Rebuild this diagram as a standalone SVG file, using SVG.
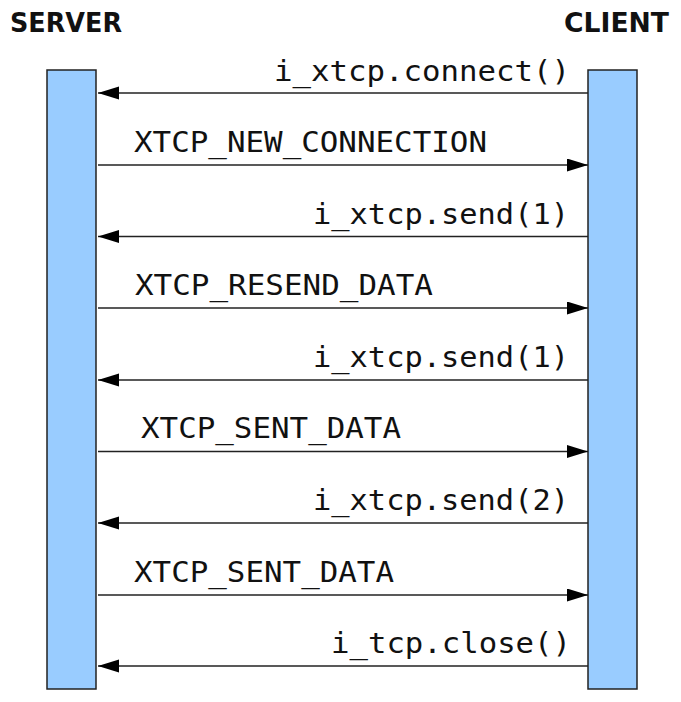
<svg xmlns="http://www.w3.org/2000/svg" width="681" height="702" viewBox="0 0 681 702">
<style>
.bar{fill:#99ccff;stroke:#222;stroke-width:1.5}
.hdr{font-family:"DejaVu Sans","Liberation Sans",sans-serif;font-weight:bold;font-size:26px;fill:#111}
.lbl{font-family:"DejaVu Sans Mono","Liberation Mono",monospace;font-size:29px;fill:#111}
.msg{stroke:#222;stroke-width:1.3;fill:none;marker-end:url(#ah)}
</style>
<defs>
<marker id="ah" markerUnits="userSpaceOnUse" markerWidth="22" markerHeight="14" refX="21" refY="6.5" orient="auto">
<path d="M0,0 L21,6.5 L0,13 z" fill="#000"/>
</marker>
</defs>
<rect width="681" height="702" fill="#fff"/>
<g id="server">
<text class="hdr" x="10" y="32" textLength="112" lengthAdjust="spacingAndGlyphs">SERVER</text>
<rect class="bar" x="47" y="70" width="49" height="619"/>
</g>
<g id="client">
<text class="hdr" x="564" y="32" textLength="105" lengthAdjust="spacingAndGlyphs">CLIENT</text>
<rect class="bar" x="588" y="70" width="49" height="619"/>
</g>
<g id="connectors">
<line class="msg" x1="588" y1="93" x2="98" y2="93"/>
<line class="msg" x1="98" y1="165" x2="588" y2="165"/>
<line class="msg" x1="588" y1="236.5" x2="98" y2="236.5"/>
<line class="msg" x1="98" y1="308" x2="588" y2="308"/>
<line class="msg" x1="588" y1="380" x2="98" y2="380"/>
<line class="msg" x1="98" y1="451.5" x2="588" y2="451.5"/>
<line class="msg" x1="588" y1="523" x2="98" y2="523"/>
<line class="msg" x1="98" y1="595" x2="588" y2="595"/>
<line class="msg" x1="588" y1="666" x2="98" y2="666"/>
</g>
<g id="labels">
<text class="lbl" x="570" y="81" text-anchor="end" textLength="296" lengthAdjust="spacingAndGlyphs">i_xtcp.connect()</text>
<text class="lbl" x="134" y="152" textLength="353" lengthAdjust="spacingAndGlyphs">XTCP_NEW_CONNECTION</text>
<text class="lbl" x="569" y="224" text-anchor="end" textLength="256" lengthAdjust="spacingAndGlyphs">i_xtcp.send(1)</text>
<text class="lbl" x="135" y="295" textLength="298" lengthAdjust="spacingAndGlyphs">XTCP_RESEND_DATA</text>
<text class="lbl" x="569" y="367" text-anchor="end" textLength="256" lengthAdjust="spacingAndGlyphs">i_xtcp.send(1)</text>
<text class="lbl" x="141" y="438" textLength="260" lengthAdjust="spacingAndGlyphs">XTCP_SENT_DATA</text>
<text class="lbl" x="569" y="510" text-anchor="end" textLength="256" lengthAdjust="spacingAndGlyphs">i_xtcp.send(2)</text>
<text class="lbl" x="134" y="582" textLength="260" lengthAdjust="spacingAndGlyphs">XTCP_SENT_DATA</text>
<text class="lbl" x="571" y="653" text-anchor="end" textLength="240" lengthAdjust="spacingAndGlyphs">i_tcp.close()</text>
</g>
</svg>
